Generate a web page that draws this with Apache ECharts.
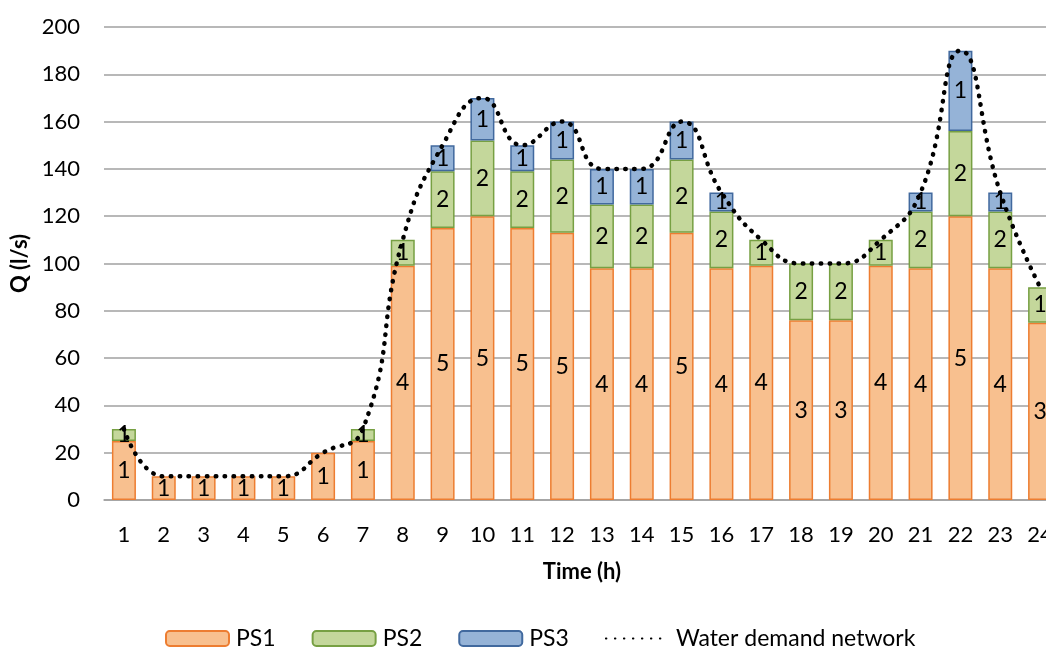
<!DOCTYPE html>
<html>
<head>
<meta charset="utf-8">
<script src="https://cdn.jsdelivr.net/npm/echarts@6/dist/echarts.min.js"></script>
<style>html,body{margin:0;padding:0;background:#fff;}#c{width:1046px;height:650px;}</style>
</head>
<body>
<div id="c"></div>
<script>
var hours = ['1','2','3','4','5','6','7','8','9','10','11','12','13','14','15','16','17','18','19','20','21','22','23','24'];
var ps1 = [25,10,10,10,10,20,25,99,115,120,115,113,98,98,113,98,99,76,76,99,98,120,98,75];
var ps2 = [5,0,0,0,0,0,5,11,24,32,24,31,27,27,31,24,11,24,24,11,24,36,24,15];
var ps3 = [0,0,0,0,0,0,0,0,11,18,11,16,15,15,16,8,0,0,0,0,8,34,8,0];
var ps1Pumps = [1,1,1,1,1,1,1,4,5,5,5,5,4,4,5,4,4,3,3,4,4,5,4,3];
var ps2Pumps = [1,0,0,0,0,0,1,1,2,2,2,2,2,2,2,2,1,2,2,1,2,2,2,1];
var ps3Pumps = [0,0,0,0,0,0,0,0,1,1,1,1,1,1,1,1,0,0,0,0,1,1,1,0];
var demand = [30,10,10,10,10,20,30,110,150,170,150,160,140,140,160,130,110,100,100,110,130,190,130,90];
var yTicks = {min: 0, max: 200, interval: 20};

var FONT = 'Lato';
function lbl(pumps) {
  return {
    show: true, position: 'inside', color: '#000', fontFamily: FONT, fontSize: 23,
    formatter: function (p) { return pumps[p.dataIndex] ? String(pumps[p.dataIndex]) : ''; }
  };
}
function nz(arr) { return arr.map(function (v) { return v === 0 ? '-' : v; }); }

var chart = echarts.init(document.getElementById('c'));
chart.setOption({
  animation: false,
  grid: {left: 104, width: 956, top: 27, bottom: 150, containLabel: false, outerBoundsMode: 'none'},
  legend: {
    left: 160, bottom: -5, itemWidth: 63, itemHeight: 15, itemGap: 36,
    textStyle: {fontFamily: FONT, fontSize: 23, color: '#000', padding: [0, 0, 0, 2]},
    data: ['PS1', 'PS2', 'PS3', {name: 'Water demand network', itemStyle: {opacity: 0}}]
  },
  xAxis: {
    type: 'category', data: hours,
    name: 'Time (h)', nameLocation: 'middle', nameGap: 61,
    nameTextStyle: {fontFamily: FONT, fontSize: 22, fontWeight: 'bold', color: '#000'},
    axisLine: {lineStyle: {color: '#a0a0a0', width: 1.5}},
    axisTick: {show: false},
    axisLabel: {fontFamily: FONT, fontSize: 22, color: '#000', margin: 24}
  },
  yAxis: {
    type: 'value', min: yTicks.min, max: yTicks.max, interval: yTicks.interval,
    name: 'Q (l/s)', nameLocation: 'middle', nameGap: 71, nameRotate: 90,
    nameTextStyle: {fontFamily: FONT, fontSize: 22, fontWeight: 'bold', color: '#000'},
    axisLine: {show: false}, axisTick: {show: false},
    axisLabel: {fontFamily: FONT, fontSize: 22, color: '#000', margin: 24},
    splitLine: {lineStyle: {color: '#a0a0a0', width: 1.5}}
  },
  series: [
    {name: 'PS1', type: 'bar', stack: 'q', data: nz(ps1), barWidth: 24,
     itemStyle: {color: '#F8C08F', borderColor: '#ED7D31', borderWidth: 1.5}, label: lbl(ps1Pumps)},
    {name: 'PS2', type: 'bar', stack: 'q', data: nz(ps2), barWidth: 24,
     itemStyle: {color: '#C4D79B', borderColor: '#77A043', borderWidth: 1.5}, label: lbl(ps2Pumps)},
    {name: 'PS3', type: 'bar', stack: 'q', data: nz(ps3), barWidth: 24,
     itemStyle: {color: '#95B3D7', borderColor: '#41699E', borderWidth: 1.5}, label: lbl(ps3Pumps)},
    {name: 'Water demand network', type: 'line', data: demand, smooth: 0.5, symbol: 'none', z: 10,
     itemStyle: {color: '#000'},
     lineStyle: {color: '#000', width: 4.5, type: [0.5, 8.5], cap: 'round'}}
  ]
});
</script>
</body>
</html>
